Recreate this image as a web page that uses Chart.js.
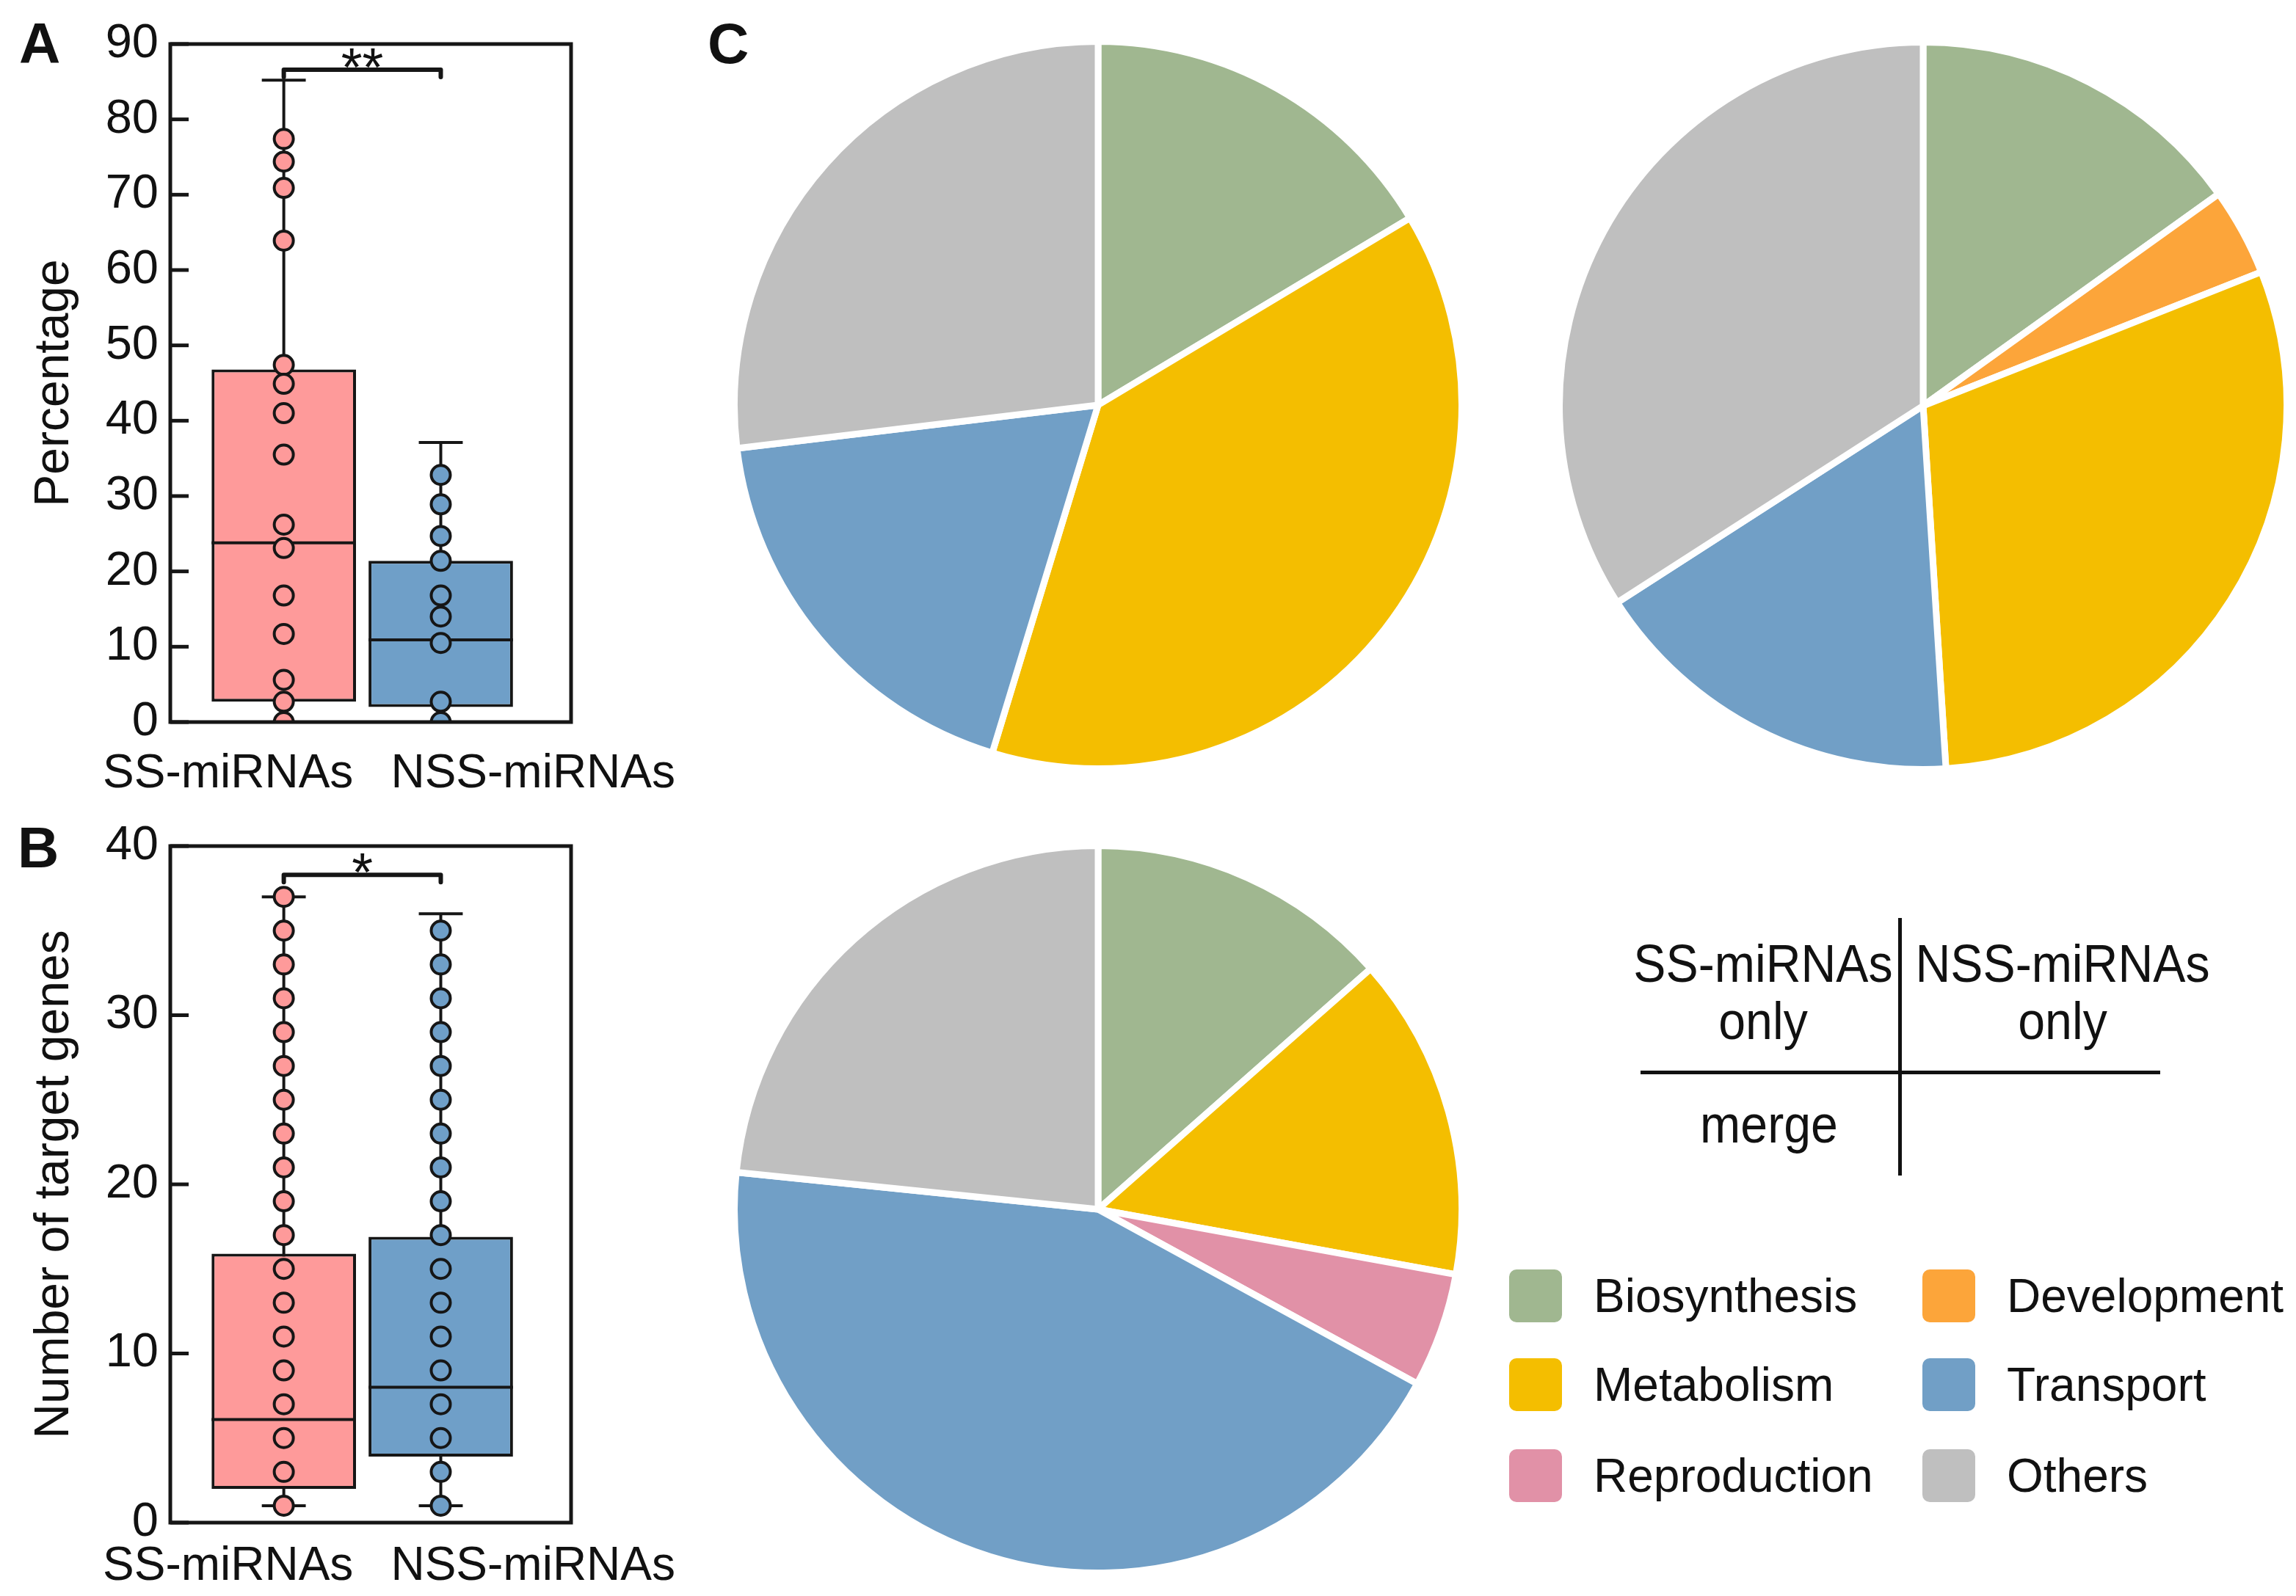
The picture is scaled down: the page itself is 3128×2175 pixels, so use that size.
<!DOCTYPE html>
<html>
<head>
<meta charset="utf-8">
<script src="https://cdn.jsdelivr.net/npm/chart.js@4.4.1/dist/chart.umd.min.js"></script>
<style>
  html, body { margin: 0; padding: 0; background: #fff; }
  body { width: 3128px; height: 2175px; position: relative; overflow: hidden;
         font-family: "Liberation Sans", Arial, sans-serif; color: #111; }
  canvas { position: absolute; }
  .tag { position: absolute; font-weight: bold; font-size: 78px; line-height: 1; }
  .line { position: absolute; background: #111; }
  .qtext { position: absolute; width: 500px; text-align: center; font-size: 72px;
           line-height: 78px; transform: scaleX(0.92); }
  .item { position: absolute; display: flex; align-items: center; height: 72px; font-size: 64px; }
  .swatch { width: 72px; height: 72px; border-radius: 10px; margin-right: 43px; }
</style>
</head>
<body>
<div class="tag" style="left:26px;top:20px">A</div>
<div class="tag" style="left:24px;top:1116px">B</div>
<div class="tag" style="left:964px;top:20px">C</div>

<canvas id="boxA" width="940" height="1100" style="left:0;top:0;width:940px;height:1100px"></canvas>
<canvas id="boxB" width="940" height="1085" style="left:0;top:1090px;width:940px;height:1085px"></canvas>
<canvas id="pieSS" width="1000" height="1000" style="left:996px;top:52px;width:1000px;height:1000px"></canvas>
<canvas id="pieNSS" width="1000" height="1000" style="left:2120px;top:53px;width:1000px;height:1000px"></canvas>
<canvas id="pieMerge" width="1000" height="1000" style="left:996px;top:1148px;width:1000px;height:1000px"></canvas>

<div id="quad"></div>
<div id="legend"></div>

<script>
// groups on the box plots
const groups = ['SS-miRNAs', 'NSS-miRNAs'];
const groupX = [1, 2];
const groupColors = ['#fe9a9a', '#6f9fc8'];

// panel A: percentage, single values
const pctSS = [77.4, 74.4, 70.9, 63.9, 47.4, 44.9, 41.0, 35.5, 26.2, 23.1, 16.8, 11.7, 5.6, 2.7, 0];
const pctNSS = [32.8, 28.9, 24.7, 21.4, 16.8, 14.0, 10.5, 2.7, 0];
// box stats: [min, q1, median, q3, max]
const pctBoxSS = [0, 2.7, 23.8, 46.8, 85.2];
const pctBoxNSS = [0, 2.0, 10.9, 21.4, 37.1];

// panel B: number of target genes
const genesSS = [37, 35, 33, 31, 29, 27, 25, 23, 21, 19, 17, 15, 13, 11, 9, 7, 5, 3, 1];
const genesNSS = [35, 33, 31, 29, 27, 25, 23, 21, 19, 17, 15, 13, 11, 9, 7, 5, 3, 1];
const genesBoxSS = [1, 2.0, 6.1, 15.9, 37];
const genesBoxNSS = [1, 3.9, 8.0, 16.9, 36];

// panel C: functional categories (% of target genes)
const categories = ['Biosynthesis', 'Development', 'Metabolism', 'Reproduction', 'Transport', 'Others'];
const catColors = ['#a0b790', '#fca53a', '#f4be00', '#e191a7', '#719fc6', '#bfbfbf'];
const ssOnly = [16.4, 0, 38.3, 0, 18.4, 26.9];
const nssOnly = [15.1, 3.9, 30.0, 0, 16.9, 34.1];
const merged = [13.5, 0, 14.4, 5.1, 43.7, 23.4];
const legendOrder = [0, 1, 2, 4, 3, 5];

const ink = '#161616';
Chart.defaults.font.family = "'Liberation Sans', Arial, sans-serif";
Chart.defaults.color = '#111';

function boxPanel(id, pts, stats, yMax, yTitle, sig, sigLevel, pad, labelDrop) {
    const capHalf = 0.14;
    const parts = {
        id: 'boxparts',
        beforeDatasetsDraw(chart) {
            const {ctx, scales: {x, y}} = chart;
            ctx.save();
            ctx.strokeStyle = ink;
            ctx.lineWidth = 4;
            stats.forEach((s, i) => {
                const cx = x.getPixelForValue(groupX[i]);
                ctx.beginPath();
                ctx.moveTo(cx, y.getPixelForValue(s[0]));
                ctx.lineTo(cx, y.getPixelForValue(s[4]));
                ctx.stroke();
                [s[0], s[4]].forEach(v => {
                    const py = y.getPixelForValue(v);
                    ctx.beginPath();
                    ctx.moveTo(x.getPixelForValue(groupX[i] - capHalf), py);
                    ctx.lineTo(x.getPixelForValue(groupX[i] + capHalf), py);
                    ctx.stroke();
                });
            });
            ctx.restore();
        },
        afterDatasetDraw(chart, args) {
            if (args.index !== 2) return;
            const {ctx, scales: {y}} = chart;
            const bars = chart.getDatasetMeta(2).data;
            ctx.save();
            ctx.strokeStyle = ink;
            ctx.lineWidth = 4;
            stats.forEach((s, i) => {
                const b = bars[i];
                const py = y.getPixelForValue(s[2]);
                ctx.beginPath();
                ctx.moveTo(b.x - b.width / 2, py);
                ctx.lineTo(b.x + b.width / 2, py);
                ctx.stroke();
            });
            ctx.restore();
        },
        afterDraw(chart) {
            const {ctx, chartArea: a, scales: {x, y}} = chart;
            ctx.save();
            ctx.strokeStyle = ink;
            // inward tick marks
            ctx.lineWidth = 5;
            y.ticks.forEach(t => {
                const py = y.getPixelForValue(t.value);
                ctx.beginPath();
                ctx.moveTo(a.left, py);
                ctx.lineTo(a.left + 25, py);
                ctx.stroke();
            });
            // frame
            ctx.strokeRect(a.left, a.top, a.right - a.left, a.bottom - a.top);
            // significance bracket
            const by = y.getPixelForValue(sigLevel);
            const x1 = x.getPixelForValue(groupX[0]);
            const x2 = x.getPixelForValue(groupX[1]);
            ctx.lineWidth = 6;
            ctx.lineJoin = 'round';
            ctx.lineCap = 'round';
            ctx.beginPath();
            ctx.moveTo(x1, by + 10);
            ctx.lineTo(x1, by);
            ctx.lineTo(x2, by);
            ctx.lineTo(x2, by + 10);
            ctx.stroke();
            ctx.fillStyle = '#111';
            ctx.font = "74px 'Liberation Sans', Arial, sans-serif";
            ctx.textAlign = 'center';
            ctx.textBaseline = 'alphabetic';
            ctx.fillText(sig, (x1 + x2) / 2, by + 22);
            // group labels under the plot
            ctx.font = "64px 'Liberation Sans', Arial, sans-serif";
            ctx.textAlign = 'left';
            ctx.fillText(groups[0], a.left - 92, a.bottom + labelDrop);
            ctx.textAlign = 'right';
            ctx.fillText(groups[1], a.right + 142, a.bottom + labelDrop);
            ctx.restore();
        }
    };

    const datasets = pts.map((arr, i) => ({
        type: 'scatter',
        data: arr.map(v => ({x: groupX[i], y: v})),
        backgroundColor: groupColors[i],
        borderColor: ink,
        borderWidth: 4,
        pointRadius: 13,
        clip: 0
    }));
    datasets.push({
        type: 'bar',
        data: stats.map((s, i) => ({x: groupX[i], y: [s[1], s[3]]})),
        backgroundColor: groupColors,
        borderColor: ink,
        borderWidth: 4,
        borderSkipped: false,
        categoryPercentage: 1,
        barPercentage: 0.92
    });

    return new Chart(document.getElementById(id), {
        type: 'bar',
        data: {datasets: datasets},
        options: {
            responsive: false,
            animation: false,
            layout: {padding: {left: 0, right: 162, top: pad[0], bottom: pad[1]}},
            plugins: {legend: {display: false}, tooltip: {enabled: false}},
            scales: {
                x: {
                    type: 'linear', min: 0.277, max: 2.83, offset: false, display: false,
                    afterBuildTicks: s => { s.ticks = groupX.map(v => ({value: v})); }
                },
                y: {
                    min: 0, max: yMax,
                    afterFit: s => { s.width = 232; },
                    grid: {display: false, drawTicks: false},
                    border: {display: false},
                    ticks: {stepSize: 10, padding: 16, font: {size: 65}, color: '#111'},
                    title: {display: true, text: yTitle, font: {size: 66}, color: '#111',
                            padding: {top: 35, bottom: 0}}
                }
            }
        },
        plugins: [parts]
    });
}

boxPanel('boxA', [pctSS, pctNSS], [pctBoxSS, pctBoxNSS], 90, 'Percentage', '**', 86.6, [60, 116], 89);
boxPanel('boxB', [genesSS, genesNSS], [genesBoxSS, genesBoxNSS], 40, 'Number of target genes', '*', 38.3, [63, 100], 78);

function pie(id, values) {
    return new Chart(document.getElementById(id), {
        type: 'pie',
        data: {
            labels: categories,
            datasets: [{data: values, backgroundColor: catColors, borderColor: '#ffffff', borderWidth: 9}]
        },
        options: {
            responsive: false,
            animation: false,
            layout: {padding: 0},
            plugins: {legend: {display: false}, tooltip: {enabled: false}}
        }
    });
}
pie('pieSS', ssOnly);
pie('pieNSS', nssOnly);
pie('pieMerge', merged);

// key to the pie layout
const quad = document.getElementById('quad');
quad.innerHTML =
    '<div class="line" style="left:2586px;top:1251px;width:5px;height:351px"></div>' +
    '<div class="line" style="left:2235px;top:1459px;width:708px;height:5px"></div>' +
    '<div class="qtext" style="left:2152px;top:1274px">SS-miRNAs<br>only</div>' +
    '<div class="qtext" style="left:2560px;top:1274px">NSS-miRNAs<br>only</div>' +
    '<div class="qtext" style="left:2160px;top:1493px">merge</div>';

// legend, two columns
const legend = document.getElementById('legend');
const colX = [2056, 2619];
const rowY = [1730, 1851, 1975];
legendOrder.forEach((c, k) => {
    const el = document.createElement('div');
    el.className = 'item';
    el.style.left = colX[k % 2] + 'px';
    el.style.top = rowY[Math.floor(k / 2)] + 'px';
    el.innerHTML = '<div class="swatch" style="background:' + catColors[c] + '"></div>' + categories[c];
    legend.appendChild(el);
});
</script>
</body>
</html>
